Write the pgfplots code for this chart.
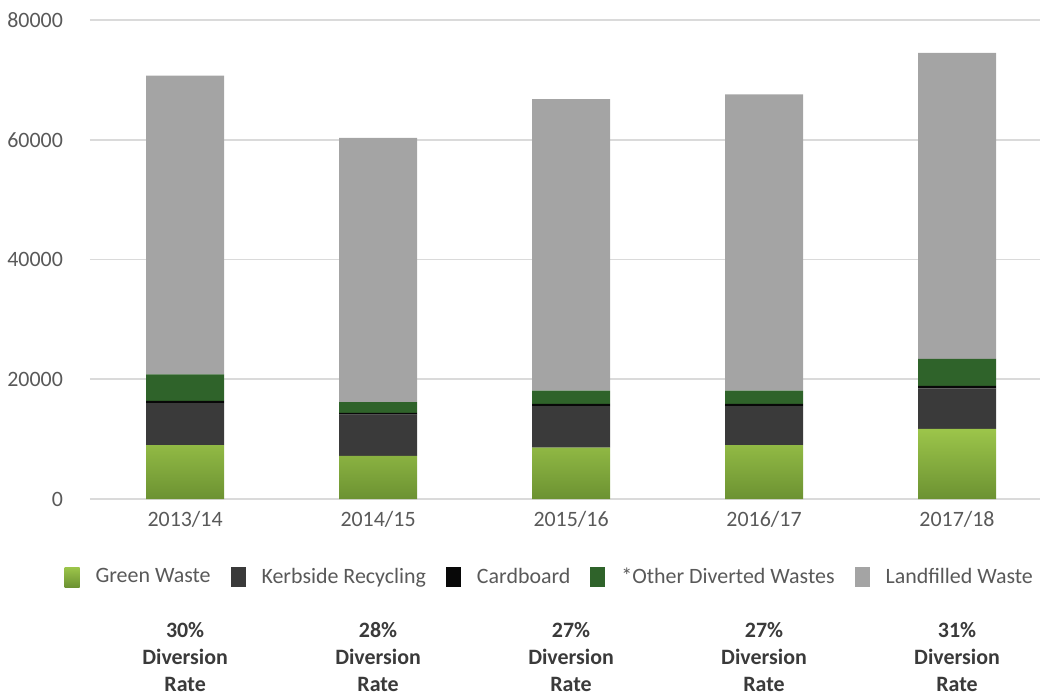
\documentclass[border=0pt]{standalone}
\usepackage{pgfplots}
\pgfplotsset{compat=1.18}
\usepackage{fontspec}
\setmainfont{Carlito}
\definecolor{gTop}{HTML}{9CC54A}
\definecolor{gBot}{HTML}{6C9232}
\definecolor{kerb}{HTML}{3A3A3A}
\definecolor{card}{HTML}{080808}
\definecolor{othr}{HTML}{2F632A}
\definecolor{land}{HTML}{A4A4A4}
\definecolor{txt}{HTML}{595959}
\definecolor{grd}{HTML}{DADADA}
\tikzset{divlab/.style={align=center, font=\fontsize{11}{13.5}\selectfont\bfseries, text=kerb, yshift=-79bp}}
\begin{document}
\begin{tikzpicture}
\begin{axis}[
  scale only axis,
  width=475bp, height=239.5bp,
  ybar stacked, bar width=39bp,
  xmin=-0.493, xmax=4.43,
  ymin=0, ymax=80000,
  xtick={0,1,2,3,4},
  xticklabels={2013/14,2014/15,2015/16,2016/17,2017/18},
  ytick={0,20000,40000,60000,80000},
  scaled y ticks=false,
  major tick length=0pt,
  axis line style={draw=none},
  ymajorgrids, grid style={grd, line width=0.9bp},
  /pgf/number format/assume math mode=true,
  /pgf/number format/1000 sep={},
  tick label style={font=\fontsize{11}{13}\selectfont, text=txt},
  yticklabel style={anchor=east, xshift=-10bp},
  xticklabel style={anchor=center, yshift=-10bp},
  clip=false,
  legend columns=-1,
  legend style={at={(0.485,-0.163)}, anchor=center, draw=none,
    font=\fontsize{11}{13}\selectfont, text=txt,
    /tikz/every odd column/.append style={column sep=6bp},
    /tikz/every even column/.append style={column sep=8bp}},
  legend image code/.code={\path[#1, draw=none] (0bp,-5bp) rectangle (7.5bp,5bp);},
]
\addplot[draw=none, top color=gTop, bottom color=gBot] coordinates {(0,9000) (1,7200) (2,8600) (3,9000) (4,11700)};
\addplot[draw=none, fill=kerb] coordinates {(0,7000) (1,6900) (2,6900) (3,6500) (4,6800)};
\addplot[draw=none, fill=card] coordinates {(0,400) (1,300) (2,400) (3,400) (4,400)};
\addplot[draw=none, fill=othr] coordinates {(0,4400) (1,1800) (2,2200) (3,2200) (4,4500)};
\addplot[draw=none, fill=land] coordinates {(0,49900) (1,44100) (2,48700) (3,49500) (4,51100)};
\legend{Green Waste, Kerbside Recycling, Cardboard, *Other Diverted Wastes, Landfilled Waste}
\node[divlab] at (axis cs:0,0) {30\%\\Diversion\\Rate};
\node[divlab] at (axis cs:1,0) {28\%\\Diversion\\Rate};
\node[divlab] at (axis cs:2,0) {27\%\\Diversion\\Rate};
\node[divlab] at (axis cs:3,0) {27\%\\Diversion\\Rate};
\node[divlab] at (axis cs:4,0) {31\%\\Diversion\\Rate};
\path (rel axis cs:-0.0947,-0.409) rectangle (rel axis cs:1.00632,1.0418);
\end{axis}
\end{tikzpicture}
\end{document}
